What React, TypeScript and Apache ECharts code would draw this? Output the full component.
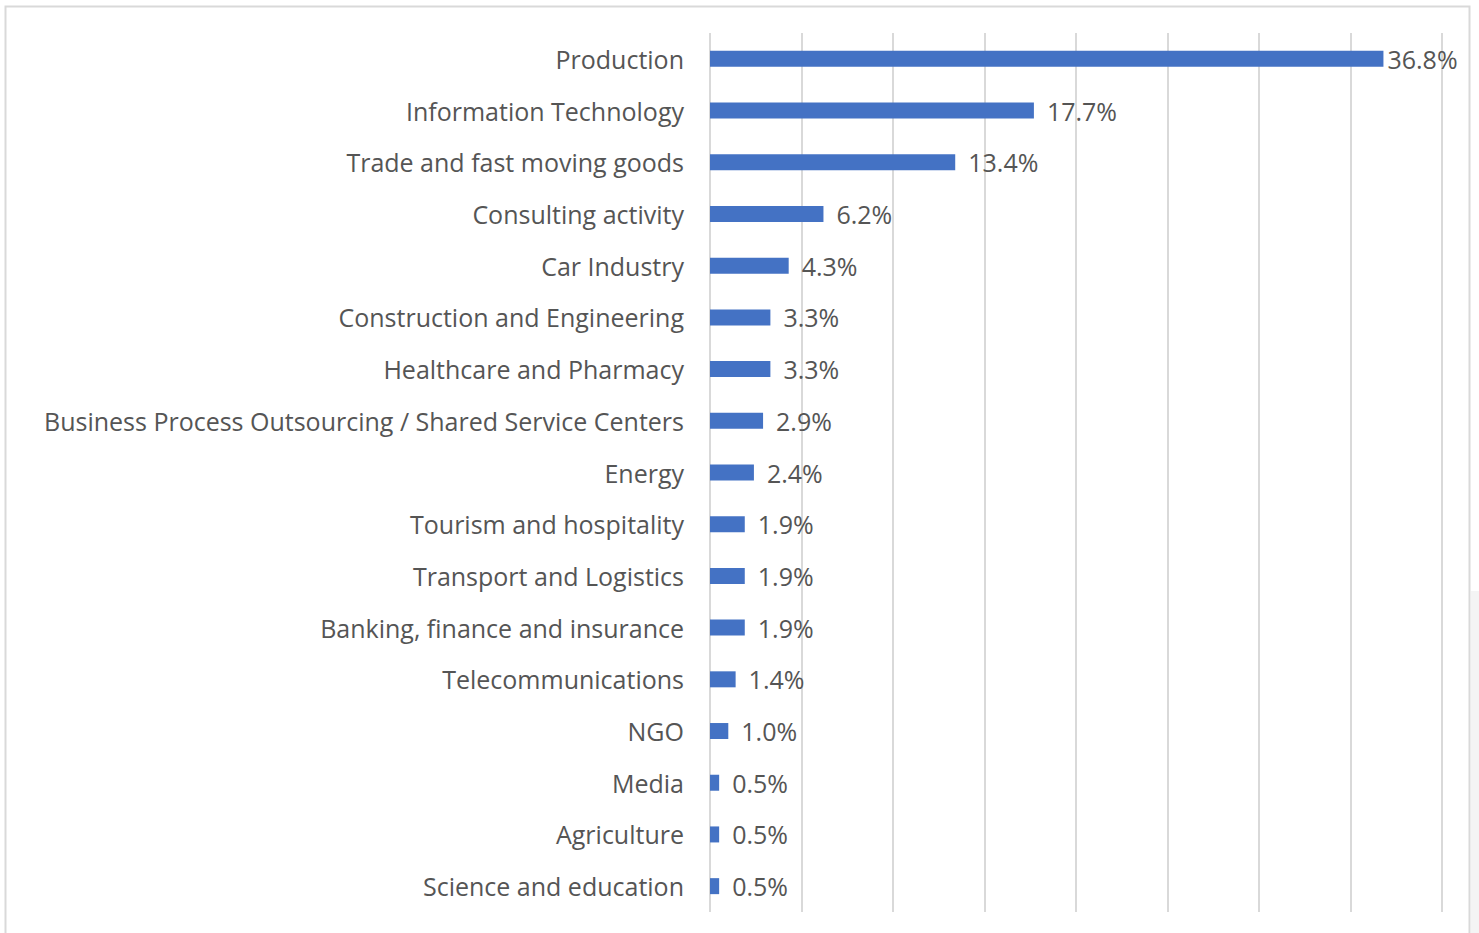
import React, { useEffect, useRef } from "react";
import * as echarts from "echarts";

const categories = [
  "Production",
  "Information Technology",
  "Trade and fast moving goods",
  "Consulting activity",
  "Car Industry",
  "Construction and Engineering",
  "Healthcare and Pharmacy",
  "Business Process Outsourcing / Shared Service Centers",
  "Energy",
  "Tourism and hospitality",
  "Transport and Logistics",
  "Banking, finance and insurance",
  "Telecommunications",
  "NGO",
  "Media",
  "Agriculture",
  "Science and education",
];

const values = [36.8, 17.7, 13.4, 6.2, 4.3, 3.3, 3.3, 2.9, 2.4, 1.9, 1.9, 1.9, 1.4, 1.0, 0.5, 0.5, 0.5];

const axisMin = 0;
const axisMax = 40;
const axisInterval = 5;

const FONT = "'Open Sans', 'Noto Sans', sans-serif";
const TEXT_COLOR = "#555555";

export default function App() {
  const ref = useRef<HTMLDivElement>(null);
  useEffect(() => {
    if (!ref.current) return;
    const chart = echarts.init(ref.current, null, { renderer: "svg" });
    chart.setOption({
      animation: false,
      backgroundColor: "#ffffff",
      grid: { left: 710, top: 33, width: 732, height: 879, containLabel: false },
      xAxis: {
        type: "value",
        min: axisMin,
        max: axisMax,
        interval: axisInterval,
        axisLabel: { show: false },
        axisLine: { show: false },
        axisTick: { show: false },
        splitLine: { show: true, lineStyle: { color: "#d9d9d9", width: 2 } },
      },
      yAxis: {
        type: "category",
        data: categories,
        inverse: true,
        axisLine: { show: false },
        axisTick: { show: false },
        axisLabel: {
          margin: 26,
          fontSize: 25,
          fontFamily: FONT,
          color: TEXT_COLOR,
        },
      },
      series: [
        {
          type: "bar",
          data: values.map((v, i) => ({
            value: v,
            label: { distance: i === 0 ? 4 : 13 },
          })),
          barWidth: 16,
          itemStyle: { color: "#4472c4" },
          label: {
            show: true,
            position: "right",
            fontSize: 25,
            fontFamily: FONT,
            color: TEXT_COLOR,
            formatter: (p: any) => Number(p.value).toFixed(1) + "%",
          },
        },
      ],
      graphic: [
        {
          type: "rect",
          shape: { x: 1471, y: 591, width: 10, height: 350 },
          style: { fill: "#f4f4f4" },
          silent: true,
        },
        {
          type: "rect",
          shape: { x: 5.5, y: 6.5, width: 1464, height: 940 },
          style: { fill: "none", stroke: "#d9d9d9", lineWidth: 2 },
          silent: true,
        },
      ],
    });
    return () => chart.dispose();
  }, []);
  return (
    <div
      ref={ref}
      style={{ position: "absolute", left: 0, top: 0, width: 1479, height: 933 }}
    />
  );
}
